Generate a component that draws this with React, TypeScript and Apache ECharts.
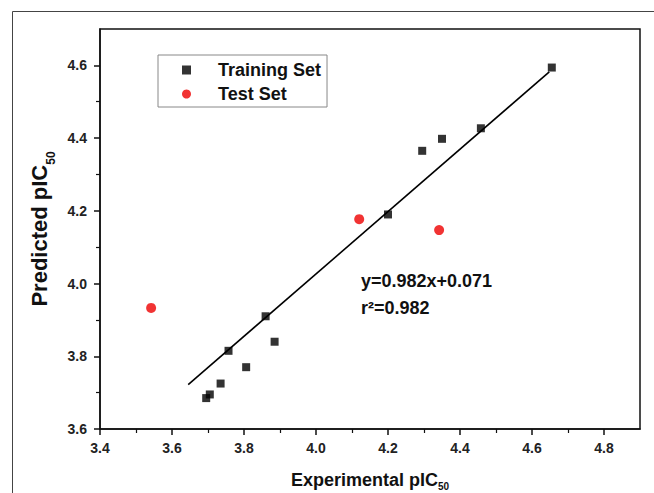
import React, { useEffect, useRef } from 'react';
import * as echarts from 'echarts';

const trainingX = [3.695, 3.705, 3.735, 3.757, 3.806, 3.86, 3.885, 4.2, 4.295, 4.35, 4.458, 4.655];
const trainingY = [3.685, 3.695, 3.725, 3.815, 3.77, 3.91, 3.84, 4.19, 4.365, 4.398, 4.427, 4.594];
const testX = [3.542, 4.12, 4.342];
const testY = [3.933, 4.177, 4.147];
const fitX = [3.645, 4.648];
const fitY = [3.722, 4.582];
const xMajorTicks = [3.4, 3.6, 3.8, 4.0, 4.2, 4.4, 4.6, 4.8];
const xMinorTicks = [3.5, 3.7, 3.9, 4.1, 4.3, 4.5, 4.7];
const yMajorTicks = [3.6, 3.8, 4.0, 4.2, 4.4, 4.6];
const yMinorTicks = [3.7, 3.9, 4.1, 4.3, 4.5];
const seriesNames = ['Training Set', 'Test Set'];
const equationLines = ['y=0.982x+0.071', 'r²=0.982'];

const FONT = '"Liberation Sans", Arial, sans-serif';

export default function App() {
  const ref = useRef<HTMLDivElement>(null);
  useEffect(() => {
    if (!ref.current) return;
    const chart = echarts.init(ref.current, null, { renderer: 'svg' });
    const grid = { left: 100, top: 29, right: 14, bottom: 64, containLabel: false, outerBoundsMode: 'none' };
    const nameRich = {
      a: { fontFamily: FONT, fontWeight: 'bold', fontSize: 18, color: '#111', lineHeight: 22, verticalAlign: 'top' },
      b: { fontFamily: FONT, fontWeight: 'bold', fontSize: 10, color: '#111', verticalAlign: 'top', padding: [10, 0, 0, 0] },
    };
    const yNameRich = {
      a: { fontFamily: FONT, fontWeight: 'bold', fontSize: 22, color: '#111', lineHeight: 24, verticalAlign: 'top' },
      b: { fontFamily: FONT, fontWeight: 'bold', fontSize: 12, color: '#111', verticalAlign: 'top', padding: [16, 0, 0, 0] },
    };
    const labelStyle = {
      fontFamily: FONT,
      fontWeight: 'bold',
      fontSize: 14,
      color: '#222',
      formatter: (v: number) => v.toFixed(1),
    };
    const option: any = {
      animation: false,
      backgroundColor: '#fff',
      grid: [
        { ...grid, show: true, borderColor: '#111', borderWidth: 1.5, backgroundColor: 'transparent' },
        { ...grid, show: false },
      ],
      legend: {
        orient: 'vertical',
        left: 158,
        top: 55,
        data: [
          { name: seriesNames[0], icon: 'rect' },
          { name: seriesNames[1], icon: 'circle' },
        ],
        itemWidth: 9,
        itemHeight: 9,
        itemGap: 6,
        padding: [6, 6, 4, 24],
        borderColor: '#888',
        borderWidth: 1,
        borderRadius: 0,
        textStyle: {
          fontFamily: FONT,
          fontWeight: 'bold',
          fontSize: 18,
          lineHeight: 18,
          color: '#111',
          padding: [0, 0, 0, 22],
        },
      },
      xAxis: [
        {
          type: 'value',
          gridIndex: 0,
          min: 3.4,
          max: 4.9,
          name: '{a|Experimental pIC}{b|50}',
          nameLocation: 'middle',
          nameGap: 42,
          nameTextStyle: { rich: nameRich },
          axisLine: { show: true, lineStyle: { color: '#111', width: 1.5 } },
          axisTick: { show: true, length: 6, customValues: xMajorTicks, lineStyle: { color: '#111', width: 1.5 } },
          axisLabel: { ...labelStyle, margin: 12, customValues: xMajorTicks },
          splitLine: { show: false },
        },
        {
          type: 'value',
          gridIndex: 1,
          min: 3.4,
          max: 4.9,
          axisLine: { show: false },
          axisTick: { show: true, length: 4, customValues: xMinorTicks, lineStyle: { color: '#111', width: 1.2 } },
          axisLabel: { show: false },
          splitLine: { show: false },
        },
      ],
      yAxis: [
        {
          type: 'value',
          gridIndex: 0,
          min: 3.6,
          max: 4.7,
          name: '{a|Predicted pIC}{b|50}',
          nameLocation: 'middle',
          nameGap: 43,
          nameTextStyle: { rich: yNameRich },
          axisLine: { show: true, lineStyle: { color: '#111', width: 1.5 } },
          axisTick: { show: true, length: 6, customValues: yMajorTicks, lineStyle: { color: '#111', width: 1.5 } },
          axisLabel: { ...labelStyle, margin: 13, customValues: yMajorTicks },
          splitLine: { show: false },
        },
        {
          type: 'value',
          gridIndex: 1,
          min: 3.6,
          max: 4.7,
          axisLine: { show: false },
          axisTick: { show: true, length: 4, customValues: yMinorTicks, lineStyle: { color: '#111', width: 1.2 } },
          axisLabel: { show: false },
          splitLine: { show: false },
        },
      ],
      series: [
        {
          name: 'Fit',
          type: 'line',
          xAxisIndex: 0,
          yAxisIndex: 0,
          data: fitX.map((x, i) => [x, fitY[i]]),
          showSymbol: false,
          symbol: 'none',
          lineStyle: { color: '#000', width: 1.6 },
          silent: true,
          z: 1,
        },
        {
          name: seriesNames[0],
          type: 'scatter',
          xAxisIndex: 0,
          yAxisIndex: 0,
          symbol: 'rect',
          symbolSize: 8,
          itemStyle: { color: '#000' },
          data: trainingX.map((x, i) => [x, trainingY[i]]),
          z: 3,
        },
        {
          name: seriesNames[1],
          type: 'scatter',
          xAxisIndex: 0,
          yAxisIndex: 0,
          symbol: 'circle',
          symbolSize: 10,
          itemStyle: { color: '#ee0000' },
          data: testX.map((x, i) => [x, testY[i]]),
          z: 3,
        },
      ],
      graphic: [
        {
          type: 'rect',
          silent: true,
          z: -10,
          shape: { x: 12.5, y: 11.5, width: 700, height: 600 },
          style: { fill: 'none', stroke: '#444', lineWidth: 1 },
        },
        {
          type: 'text',
          left: 361,
          top: 272,
          style: { text: equationLines[0], fill: '#111', font: `bold 18px ${FONT}` },
        },
        {
          type: 'text',
          left: 361,
          top: 299,
          style: { text: equationLines[1], fill: '#111', font: `bold 18px ${FONT}` },
        },
      ],
    };
    chart.setOption(option);
    return () => chart.dispose();
  }, []);
  return (
    <div
      ref={ref}
      style={{ position: 'fixed', left: 0, top: 0, width: 654, height: 493, background: '#fff' }}
    />
  );
}
